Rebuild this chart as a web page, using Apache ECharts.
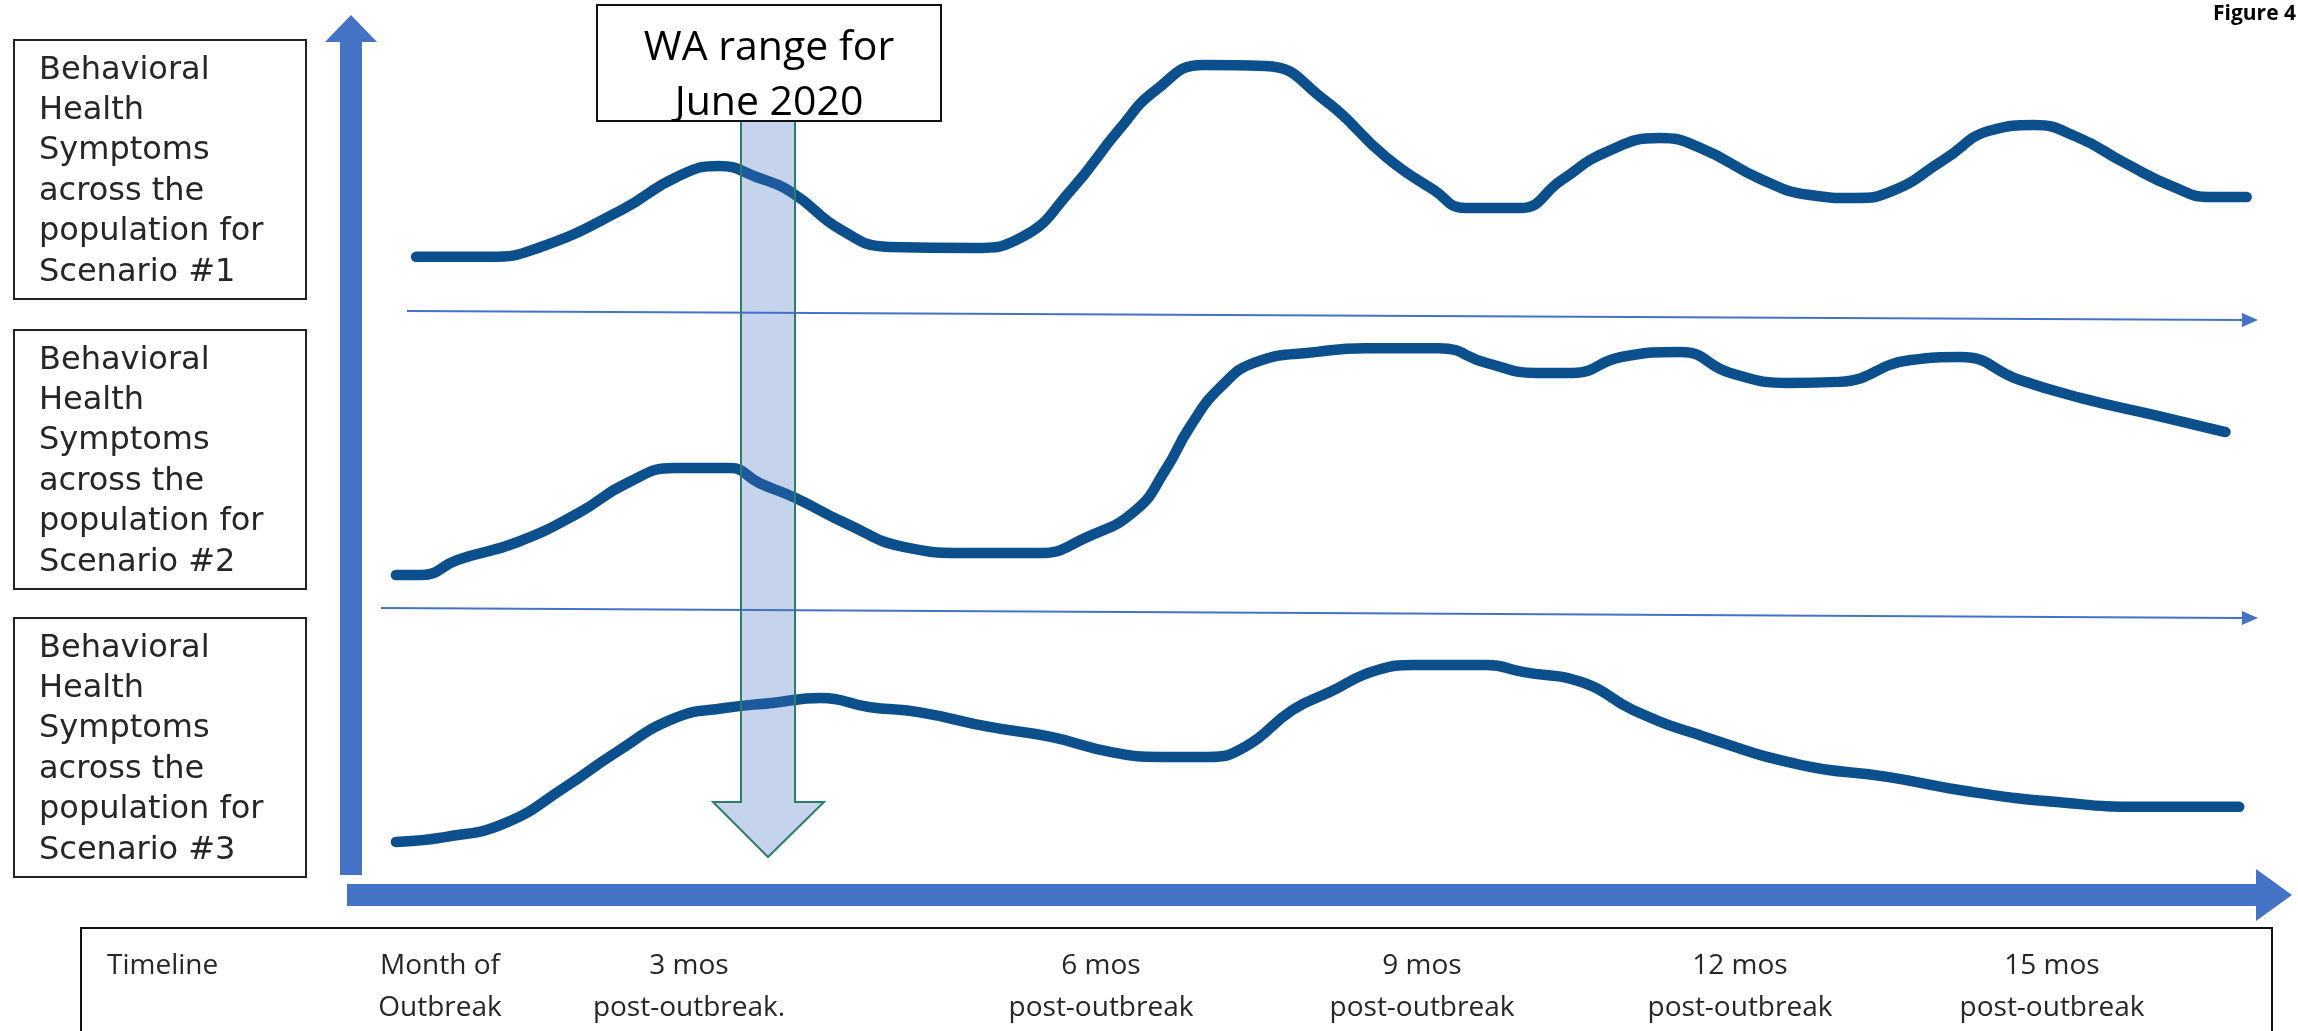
<!DOCTYPE html>
<html>
<head>
<meta charset="utf-8">
<script src="https://cdn.jsdelivr.net/npm/echarts@6/dist/echarts.min.js"></script>
<style>
html,body{margin:0;padding:0;background:#fff;}
#chart{width:2298px;height:1031px;}
</style>
</head>
<body>
<div id="chart"></div>
<script>
// ---- Data (x = months after outbreak, y = relative symptom level above baseline) ----
const scenario1 = [[-0.49,2.19],[0.20,2.19],[0.66,2.52],[1.45,3.93],[1.97,5.15],[2.37,5.56],[2.72,5.15],[3.06,4.56],[3.52,3.19],[3.97,2.56],[4.77,2.52],[5.23,2.93],[5.69,4.67],[6.14,6.89],[6.49,8.37],[6.94,9.30],[7.52,9.26],[8.08,8.00],[8.66,5.89],[9.11,4.67],[9.41,4.00],[9.92,4.00],[10.32,5.04],[10.72,6.04],[11.24,6.59],[11.63,6.22],[12.21,5.04],[12.66,4.48],[13.07,4.37],[13.46,4.67],[13.92,5.78],[14.38,6.89],[14.77,7.07],[15.18,6.63],[15.63,5.67],[16.09,4.78],[16.43,4.41],[16.78,4.41]];
const scenario2 = [[-0.68,1.41],[-0.44,1.41],[-0.10,1.96],[0.47,2.63],[1.04,3.70],[1.50,4.81],[1.95,5.37],[2.47,5.37],[2.75,4.81],[3.09,4.26],[3.56,3.33],[4.12,2.44],[4.70,2.22],[5.39,2.22],[5.84,2.81],[6.30,3.81],[6.58,5.30],[6.81,6.89],[7.10,8.37],[7.44,9.30],[8.01,9.67],[8.47,9.81],[9.16,9.81],[9.61,9.26],[10.08,8.89],[10.42,8.89],[10.88,9.48],[11.44,9.67],[11.91,8.89],[12.47,8.52],[12.93,8.56],[13.61,9.37],[14.08,9.48],[14.64,8.63],[15.22,7.96],[15.91,7.33],[16.58,6.70]];
const scenario3 = [[-0.68,1.89],[-0.22,2.07],[0.35,2.59],[0.92,3.93],[1.39,5.19],[1.95,6.48],[2.42,6.85],[2.87,7.04],[3.33,7.22],[3.78,6.89],[4.25,6.70],[4.92,6.15],[5.50,5.78],[6.07,5.22],[6.53,5.04],[6.98,5.04],[7.33,5.41],[7.78,6.78],[8.13,7.44],[8.58,8.26],[8.92,8.44],[9.61,8.44],[9.95,8.19],[10.53,7.78],[10.99,6.78],[11.67,5.78],[12.58,4.74],[13.39,4.30],[14.19,3.74],[14.99,3.37],[15.79,3.19],[16.71,3.19]];

const scenarioLabels = [
  "Behavioral\nHealth\nSymptoms\nacross the\npopulation for\nScenario #1",
  "Behavioral\nHealth\nSymptoms\nacross the\npopulation for\nScenario #2",
  "Behavioral\nHealth\nSymptoms\nacross the\npopulation for\nScenario #3"
];
const timelineTitle = "Timeline";
const timelineLabels = ["Month of\nOutbreak","3 mos\npost-outbreak.","6 mos\npost-outbreak","9 mos\npost-outbreak","12 mos\npost-outbreak","15 mos\npost-outbreak"];
const waLabel = "WA range for\nJune 2020";
const figureLabel = "Figure 4";

// ---- Layout ----
const W = 2298, H = 1031;
const gridLeft = 362, gridRight = W - 2270;
const bands = [{top:19, base:316},{top:316, base:613},{top:596, base:893}];
const curveColor = '#0B4F8C';
const arrowBlue = '#4472C4';
const FONT = '"Open Sans", "DejaVu Sans", sans-serif';

const grids = bands.map(b => ({left:gridLeft, right:gridRight, top:b.top, bottom:H-b.base, containLabel:false}));
const xAxes = bands.map((b,i) => ({type:'value', gridIndex:i, min:-1, max:17, show:false}));
const yAxes = bands.map((b,i) => ({type:'value', gridIndex:i, min:0, max:11, show:false}));
const seriesData = [scenario1, scenario2, scenario3];
const series = seriesData.map((d,i) => ({
  type:'line', xAxisIndex:i, yAxisIndex:i, data:d, smooth:0.5,
  showSymbol:false, silent:true, animation:false,
  lineStyle:{color:curveColor, width:10.5, cap:'round', join:'round'}
}));

const graphics = [];
// Scenario boxes
const boxTops = [40, 330, 618];
boxTops.forEach((t,i) => {
  graphics.push({type:'rect', shape:{x:14, y:t, width:292, height:259}, style:{fill:'#fff', stroke:'#222', lineWidth:2}, z:5});
  graphics.push({type:'text', style:{text:scenarioLabels[i], x:39, y:t+10, fontSize:32, fontFamily:'"DejaVu Sans", sans-serif', lineHeight:40.4, fill:'#262626', align:'left', verticalAlign:'top'}, z:6});
});
// Vertical thick arrow
graphics.push({type:'polygon', shape:{points:[[340,875],[340,42],[325,42],[351,15],[377,42],[362,42],[362,875]]}, style:{fill:arrowBlue}, z:4});
// Horizontal thick arrow
graphics.push({type:'polygon', shape:{points:[[347,884],[2256,884],[2256,869],[2292,895],[2256,921],[2256,906],[347,906]]}, style:{fill:arrowBlue}, z:4});
// Thin baseline arrows
[[407,311,2242,320],[381,608,2242,618]].forEach(a => {
  graphics.push({type:'line', shape:{x1:a[0], y1:a[1], x2:a[2], y2:a[3]}, style:{stroke:arrowBlue, lineWidth:2}, z:4});
  graphics.push({type:'polygon', shape:{points:[[a[2],a[3]-7],[a[2]+16,a[3]],[a[2],a[3]+7]]}, style:{fill:arrowBlue}, z:4});
});
// WA down arrow (semi-transparent)
graphics.push({type:'polygon', shape:{points:[[741,121],[741,802],[713,802],[768,857],[824,802],[795,802],[795,121]]}, style:{fill:'rgba(68,114,196,0.31)', stroke:'#2E7D6B', lineWidth:2}, z:10});
// WA box
graphics.push({type:'rect', shape:{x:597, y:5, width:344, height:116}, style:{fill:'#fff', stroke:'#111', lineWidth:2}, z:11});
graphics.push({type:'text', style:{text:waLabel, x:769, y:21, fontSize:41, fontFamily:FONT, lineHeight:55, fill:'#000', align:'center', verticalAlign:'top'}, z:12});
// Figure label
graphics.push({type:'text', style:{text:figureLabel, x:2296, y:14, fontSize:21, fontWeight:'bold', fontFamily:FONT, fill:'#000', align:'right', verticalAlign:'middle'}, z:12});
// Timeline box
graphics.push({type:'rect', shape:{x:81, y:928, width:2191, height:130}, style:{fill:'none', stroke:'#111', lineWidth:2}, z:5});
graphics.push({type:'text', style:{text:timelineTitle, x:107, y:966, fontSize:28, fontFamily:FONT, fill:'#262626', align:'left', verticalAlign:'middle'}, z:6});
const timelineX = [440, 689, 1101, 1422, 1740, 2052];
timelineLabels.forEach((t,i) => {
  graphics.push({type:'text', style:{text:t, x:timelineX[i], y:945, fontSize:28, fontFamily:FONT, lineHeight:42, fill:'#262626', align:'center', verticalAlign:'top'}, z:6});
});

const chart = echarts.init(document.getElementById('chart'), null, {renderer:'canvas'});
chart.setOption({
  backgroundColor:'#fff',
  animation:false,
  grid:grids, xAxis:xAxes, yAxis:yAxes, series:series,
  graphic:{elements:graphics}
});
</script>
</body>
</html>
